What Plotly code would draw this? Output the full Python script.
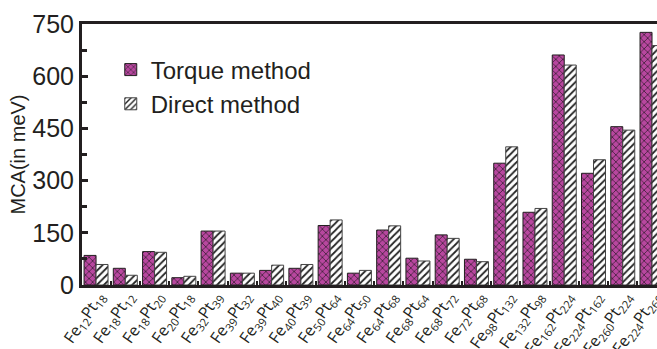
import plotly.graph_objects as go

categories = ["Fe<sub>12</sub>Pt<sub>18</sub>", "Fe<sub>18</sub>Pt<sub>12</sub>", "Fe<sub>18</sub>Pt<sub>20</sub>",
              "Fe<sub>20</sub>Pt<sub>18</sub>", "Fe<sub>32</sub>Pt<sub>39</sub>", "Fe<sub>39</sub>Pt<sub>32</sub>",
              "Fe<sub>39</sub>Pt<sub>40</sub>", "Fe<sub>40</sub>Pt<sub>39</sub>", "Fe<sub>50</sub>Pt<sub>64</sub>",
              "Fe<sub>64</sub>Pt<sub>50</sub>", "Fe<sub>64</sub>Pt<sub>68</sub>", "Fe<sub>68</sub>Pt<sub>64</sub>",
              "Fe<sub>68</sub>Pt<sub>72</sub>", "Fe<sub>72</sub>Pt<sub>68</sub>", "Fe<sub>98</sub>Pt<sub>132</sub>",
              "Fe<sub>132</sub>Pt<sub>98</sub>", "Fe<sub>162</sub>Pt<sub>224</sub>", "Fe<sub>224</sub>Pt<sub>162</sub>",
              "Fe<sub>260</sub>Pt<sub>224</sub>", "Fe<sub>224</sub>Pt<sub>260</sub>"]
torque = [85, 48, 96, 21, 155, 34, 42, 48, 171, 34, 158, 77, 144, 74, 350, 209, 661, 321, 455, 726]
direct = [59, 28, 94, 25, 155, 34, 57, 59, 187, 42, 170, 69, 134, 67, 397, 220, 632, 360, 445, 688]
y_ticks = [0, 150, 300, 450, 600, 750]

x_idx = list(range(len(categories)))
ink = "#231f20"

fig = go.Figure()
fig.add_trace(go.Bar(
    x=x_idx, y=torque, name="Torque method",
    marker=dict(color="#b8479f", line=dict(color=ink, width=1),
                pattern=dict(shape="x", fgcolor="#2a1a28", bgcolor="#b8479f",
                             size=5, solidity=0.25, fillmode="replace")),
))
fig.add_trace(go.Bar(
    x=x_idx, y=direct, name="Direct method",
    marker=dict(color="white", line=dict(color="#444", width=1),
                pattern=dict(shape="/", fgcolor="#222", bgcolor="white",
                             size=5, solidity=0.35, fillmode="replace")),
))

fig.update_layout(
    width=657, height=349,
    margin=dict(l=82, r=0, t=24, b=64),
    paper_bgcolor="white", plot_bgcolor="white",
    barmode="group", bargap=0.18, bargroupgap=0,
    font=dict(family="Liberation Sans, Arial, sans-serif", color=ink),
    showlegend=True,
    legend=dict(x=0.05, y=0.91, xanchor="left", yanchor="top",
                bgcolor="rgba(0,0,0,0)", font=dict(size=24, color=ink),
                itemwidth=30, tracegroupgap=0),
    xaxis=dict(
        tickmode="array", tickvals=x_idx, ticktext=categories,
        range=[-0.48, 19.17], tickangle=-55, automargin=False,
        tickfont=dict(family="Open Sans, sans-serif", size=16, color=ink),
        ticklabeloverflow="allow", ticklabelstandoff=-7, ticklabelshift=3,
        showline=True, linewidth=3, linecolor=ink, mirror=True,
        ticks="",
        minor=dict(tick0=0.5, dtick=1, ticks="inside", ticklen=4, tickwidth=2, tickcolor=ink),
        showgrid=False, zeroline=False,
    ),
    yaxis=dict(
        range=[0, 750], tickvals=y_ticks, automargin=False,
        tickfont=dict(size=25, color=ink),
        title=dict(text="MCA(in meV)", font=dict(size=20, color=ink), standoff=2),
        showline=True, linewidth=3, linecolor=ink, mirror=False,
        ticks="inside", ticklen=6, tickwidth=3, tickcolor=ink,
        minor=dict(dtick=75, ticks="inside", ticklen=5, tickwidth=3, tickcolor=ink),
        showgrid=False, zeroline=False,
    ),
)

fig.write_html("out.html")
